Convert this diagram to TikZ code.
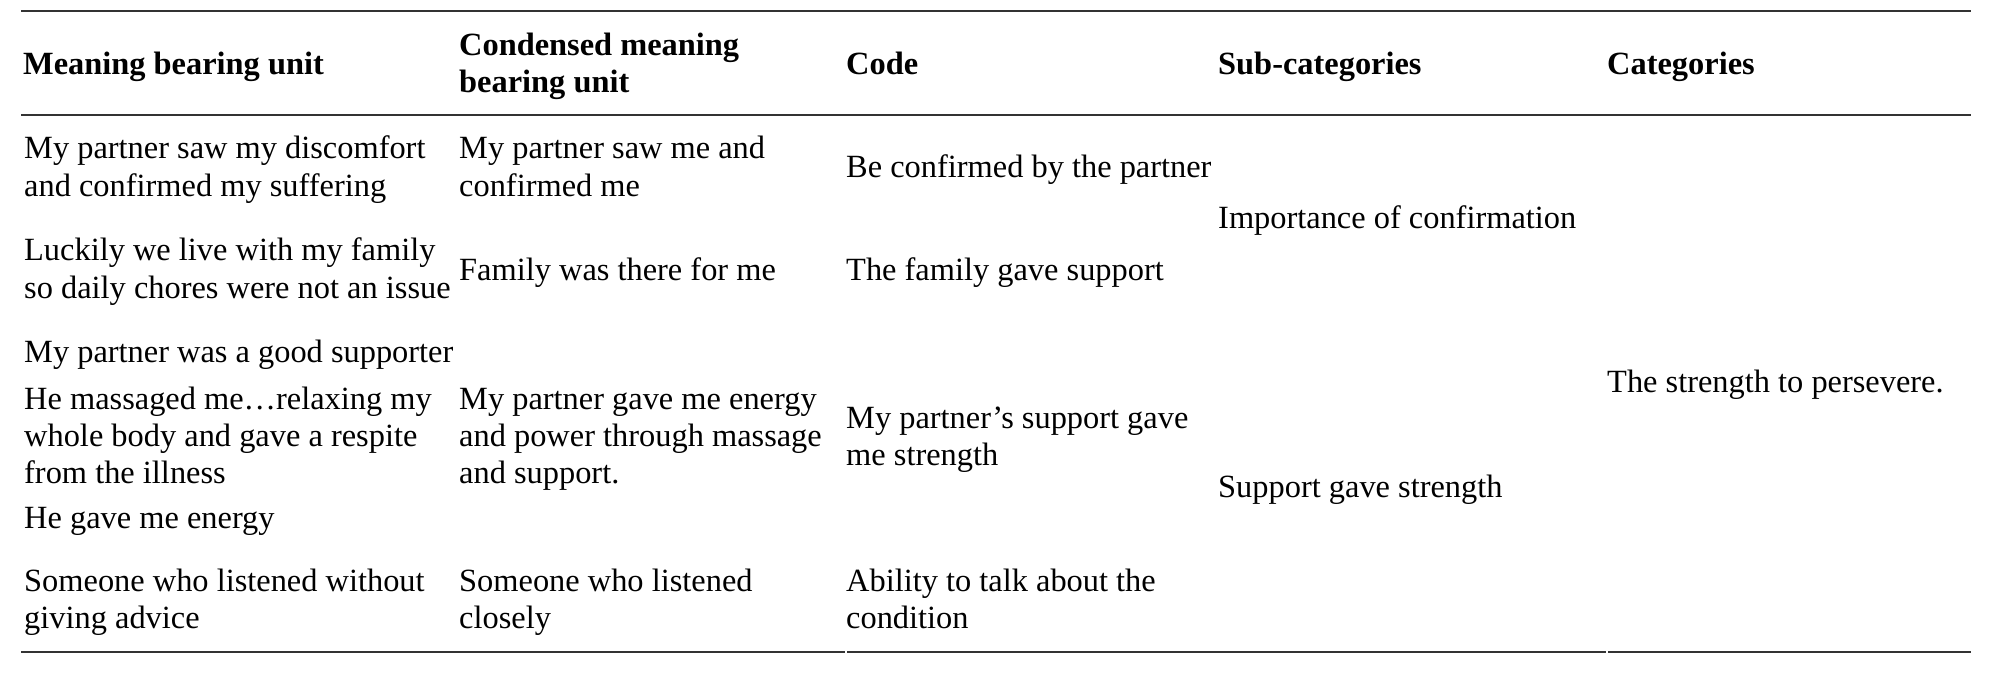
\documentclass[tikz,border=0pt]{standalone}
\usepackage{fontspec}
\setmainfont{Liberation Serif}
\begin{document}
\begin{tikzpicture}[x=1pt,y=-1pt,
  cell/.style={anchor=base west, inner sep=0pt, text=black, font=\fontsize{32.4}{37}\selectfont},
  head/.style={cell, font=\fontsize{32.4}{37}\selectfont\bfseries},
  rule/.style={line width=2.6pt, draw=black!80}]
\useasboundingbox (0,0) rectangle (2004,680);
% rules
\draw[rule] (21,11) -- (1971,11);
\draw[rule] (21,115) -- (1971,115);
\draw[rule] (21,652) -- (845,652);
\draw[rule] (847,652) -- (1606,652);
\draw[rule] (1608,652) -- (1971,652);
% header
\node[head] (h1) at (23,74) {Meaning bearing unit};
\node[head] (h2a) at (459,55) {Condensed meaning};
\node[head] (h2b) at (459,92) {bearing unit};
\node[head] (h3) at (846,74) {Code};
\node[head] (h4) at (1218,74) {Sub-categories};
\node[head] (h5) at (1607,74) {Categories};
% row 1
\node[cell] (r1a) at (24,158) {My partner saw my discomfort};
\node[cell] (r1b) at (24,196) {and confirmed my suffering};
\node[cell] (r1c) at (459,158) {My partner saw me and};
\node[cell] (r1d) at (459,196) {confirmed me};
\node[cell] (r1e) at (846,177) {Be confirmed by the partner};
% row 2
\node[cell] (r2a) at (24,260) {Luckily we live with my family};
\node[cell] (r2b) at (24,298) {so daily chores were not an issue};
\node[cell] (r2c) at (459,280) {Family was there for me};
\node[cell] (r2d) at (846,280) {The family gave support};
% sub-category 1
\node[cell] (s1) at (1218,228) {Importance of confirmation};
% row 3
\node[cell] (r3a) at (24,362) {My partner was a good supporter};
\node[cell] (r3b) at (24,409) {He massaged me…relaxing my};
\node[cell] (r3c) at (24,446) {whole body and gave a respite};
\node[cell] (r3d) at (24,483) {from the illness};
\node[cell] (r3e) at (24,528) {He gave me energy};
\node[cell] (r3f) at (459,409) {My partner gave me energy};
\node[cell] (r3g) at (459,446) {and power through massage};
\node[cell] (r3h) at (459,483) {and support.};
\node[cell] (r3i) at (846,428) {My partner’s support gave};
\node[cell] (r3j) at (846,465) {me strength};
% sub-category 2 and category
\node[cell] (s2) at (1218,497) {Support gave strength};
\node[cell] (c1) at (1607,392) {The strength to persevere.};
% row 4
\node[cell] (r4a) at (24,591) {Someone who listened without};
\node[cell] (r4b) at (24,628) {giving advice};
\node[cell] (r4c) at (459,591) {Someone who listened};
\node[cell] (r4d) at (459,628) {closely};
\node[cell] (r4e) at (846,591) {Ability to talk about the};
\node[cell] (r4f) at (846,628) {condition};
\end{tikzpicture}
\end{document}
